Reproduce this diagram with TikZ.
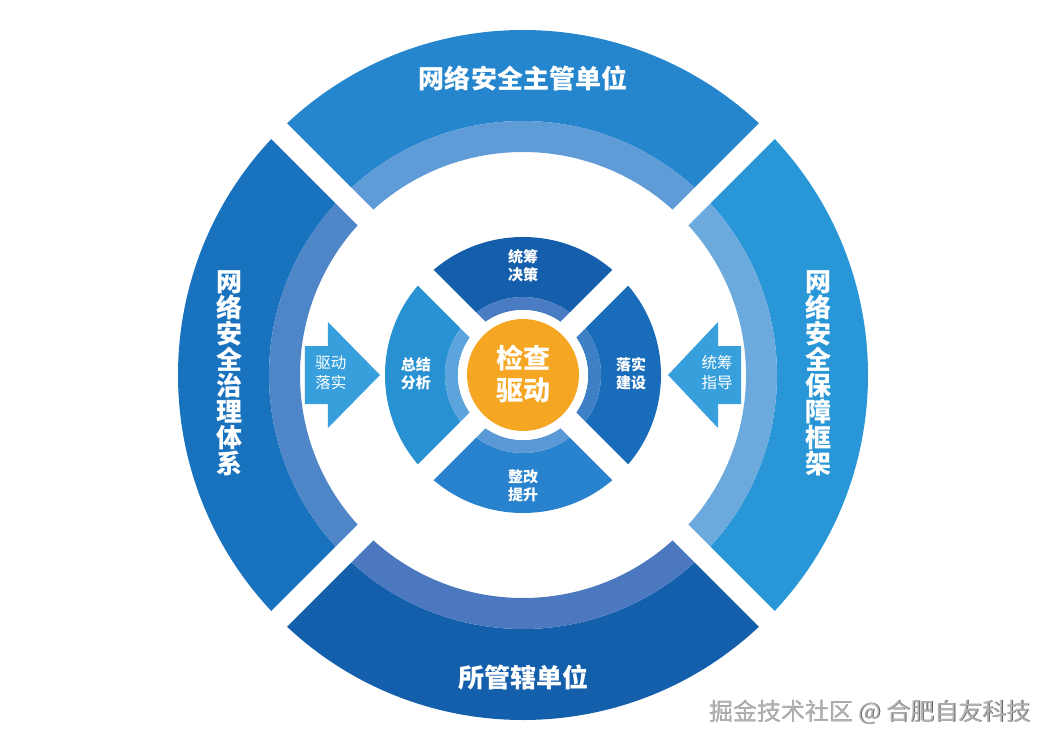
\documentclass[tikz,border=0pt]{standalone}
\usepackage{fontspec}
\usepackage{tikz}
\setmainfont{Noto Sans CJK SC}
\definecolor{outtop}{HTML}{2686CD}
\definecolor{outtopband}{HTML}{5F9BD6}
\definecolor{outleft}{HTML}{1972BE}
\definecolor{outleftband}{HTML}{4E86C8}
\definecolor{outright}{HTML}{2896D7}
\definecolor{outrightband}{HTML}{6CAADE}
\definecolor{outbottom}{HTML}{145FAC}
\definecolor{outbottomband}{HTML}{4B78BE}
\definecolor{intop}{HTML}{155EAC}
\definecolor{intopband}{HTML}{4A7CC4}
\definecolor{inright}{HTML}{196CB9}
\definecolor{inrightband}{HTML}{3E80C6}
\definecolor{inleft}{HTML}{2891D2}
\definecolor{inleftband}{HTML}{5CA4DC}
\definecolor{inbottom}{HTML}{2882CD}
\definecolor{inbottomband}{HTML}{5A98D6}
\definecolor{corecolor}{HTML}{F5A623}
\definecolor{arrowblue}{HTML}{37A0DC}
% part of a ring: colour, start angle, end angle, inner radius, outer radius
\newcommand{\ringpart}[5]{%
  \fill[#1] (#2:#5) arc[start angle=#2, end angle=#3, radius=#5]
    -- (#3:#4) arc[start angle=#3, end angle=#2, radius=#4] -- cycle;}

\begin{document}
\begin{tikzpicture}[x=1pt, y=1pt,
    ringlabel/.style={text=white, inner sep=0pt, align=center,
      font=\bfseries\fontsize{26}{26}\selectfont},
    partlabel/.style={text=white, inner sep=0pt, align=center,
      font=\bfseries\fontsize{15}{18}\selectfont},
    arrowlabel/.style={text=white, inner sep=0pt, align=center,
      font=\fontsize{15.5}{20}\selectfont},
    bigarrow/.style={fill=arrowblue},
    gapline/.style={white, line width=22pt}
  ]
    \useasboundingbox (-523,-372) rectangle (536,375);

    % outer ring
    \ringpart{outtop}{45}{135}{254}{345}
    \ringpart{outleft}{135}{225}{254}{345}
    \ringpart{outbottom}{225}{315}{254}{345}
    \ringpart{outright}{-45}{45}{254}{345}
    \ringpart{outtopband}{45}{135}{223}{254}
    \ringpart{outleftband}{135}{225}{223}{254}
    \ringpart{outbottomband}{225}{315}{223}{254}
    \ringpart{outrightband}{-45}{45}{223}{254}

    % inner ring
    \ringpart{intop}{45}{135}{78}{138}
    \ringpart{inleft}{135}{225}{78}{138}
    \ringpart{inbottom}{225}{315}{78}{138}
    \ringpart{inright}{-45}{45}{78}{138}
    \ringpart{intopband}{45}{135}{65}{78}
    \ringpart{inleftband}{135}{225}{65}{78}
    \ringpart{inbottomband}{225}{315}{65}{78}
    \ringpart{inrightband}{-45}{45}{65}{78}

    % white cuts
    \draw[gapline] (135:370) -- (-45:370);
    \draw[gapline] (45:370) -- (-135:370);
    \fill[white] (0,0) circle[radius=65];
    \fill[corecolor] (0,0) circle[radius=56];

    % arrows
    \fill[bigarrow] (-218,29) -- (-195,29) -- (-195,53) -- (-143,0)
      -- (-195,-53) -- (-195,-29) -- (-218,-29) -- cycle;
    \fill[bigarrow] (218,29) -- (195,29) -- (195,53) -- (145,0)
      -- (195,-53) -- (195,-29) -- (218,-29) -- cycle;

    \node[ringlabel] (govern) at (0,297) {网络安全主管单位};
    \node[ringlabel] (units) at (0,-302) {所管辖单位};
    \node[ringlabel] (system) at (-293,2) {网\\络\\安\\全\\治\\理\\体\\系};
    \node[ringlabel] (frame) at (295,2) {网\\络\\安\\全\\保\\障\\框\\架};

    \node[partlabel] (plan) at (0,109) {统筹\\决策};
    \node[partlabel] (build) at (108,1) {落实\\建设};
    \node[partlabel] (improve) at (0,-111) {整改\\提升};
    \node[partlabel] (review) at (-107,1) {总结\\分析};

    \node[text=white, inner sep=0pt, align=center,
      font=\bfseries\fontsize{27}{32}\selectfont] (core) at (0,1) {检查\\驱动};

    \node[arrowlabel] (drive) at (-192,2) {驱动\\落实};
    \node[arrowlabel] (guide) at (194,2) {统筹\\指导};

    \node[text=black!60, font=\fontsize{24}{24}\selectfont] (markshadow) at (347.7,-337.7) {掘金技术社区 @ 合肥自友科技};
    \node[text=black!30, font=\fontsize{24}{24}\selectfont] (mark) at (347,-337) {掘金技术社区 @ 合肥自友科技};
  \end{tikzpicture}
\end{document}
